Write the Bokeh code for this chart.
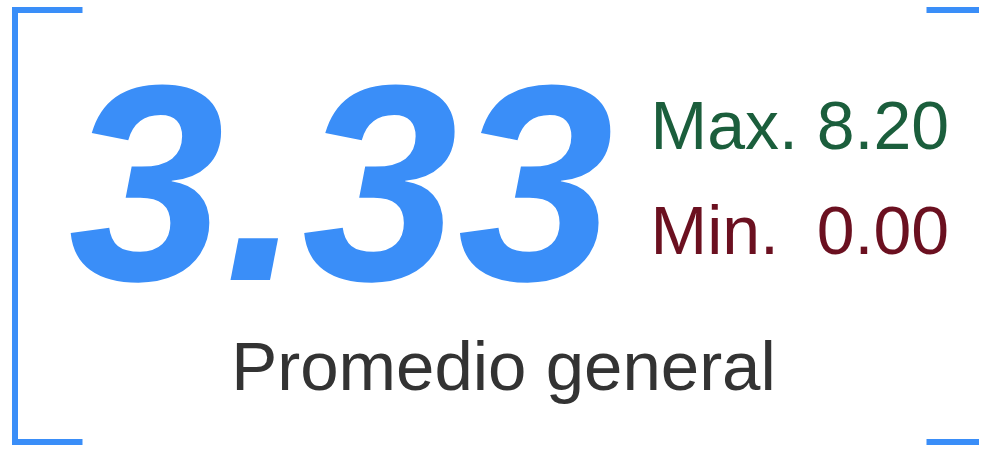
from bokeh.plotting import figure
from bokeh.models import Range1d
from bokeh.core.properties import value
from bokeh.embed import file_html
from bokeh.resources import INLINE

# ---- data ----
kpi_value = ["3.33"]
kpi_label = ["Promedio general"]
max_label = ["Max. 8.20"]
min_label = ["Min. \u00a00.00"]

BLUE = "#3a8ef8"
GREEN = "#1b5e3c"
RED = "#6b1020"
GRAY = "#333333"
FONT = value("Liberation Sans")

W, H = 979, 445
p = figure(width=W, height=H, output_backend="svg", toolbar_location=None,
           x_range=Range1d(0, W), y_range=Range1d(H, 0),
           min_border=0, outline_line_color=None, background_fill_color="white",
           border_fill_color="white")
p.axis.visible = False
p.grid.visible = False

# brackets (pixel coordinates)
p.line(x=[82, 14.5, 14.5, 82], y=[9.5, 9.5, 441.5, 441.5], line_color=BLUE,
       line_width=6, line_join="miter")
p.line(x=[926, 995], y=[9.5, 9.5], line_color=BLUE, line_width=6)
p.line(x=[926, 995], y=[441.5, 441.5], line_color=BLUE, line_width=6)

p.text(x=[68], y=[181], text=kpi_value, text_font=FONT, text_font_size="280px",
       text_font_style="bold italic", text_color=BLUE,
       text_align="left", text_baseline="alphabetic")
p.text(x=[650], y=[124], text=max_label, text_font=FONT, text_font_size="68px",
       text_color=GREEN, text_align="left", text_baseline="alphabetic")
p.text(x=[650], y=[229], text=min_label, text_font=FONT, text_font_size="68px",
       text_color=RED, text_align="left", text_baseline="alphabetic")
p.text(x=[503], y=[366], text=kpi_label, text_font=FONT, text_font_size="69px",
       text_color=GRAY, text_align="center", text_baseline="alphabetic")

open("out.html", "w").write(file_html(p, INLINE))
